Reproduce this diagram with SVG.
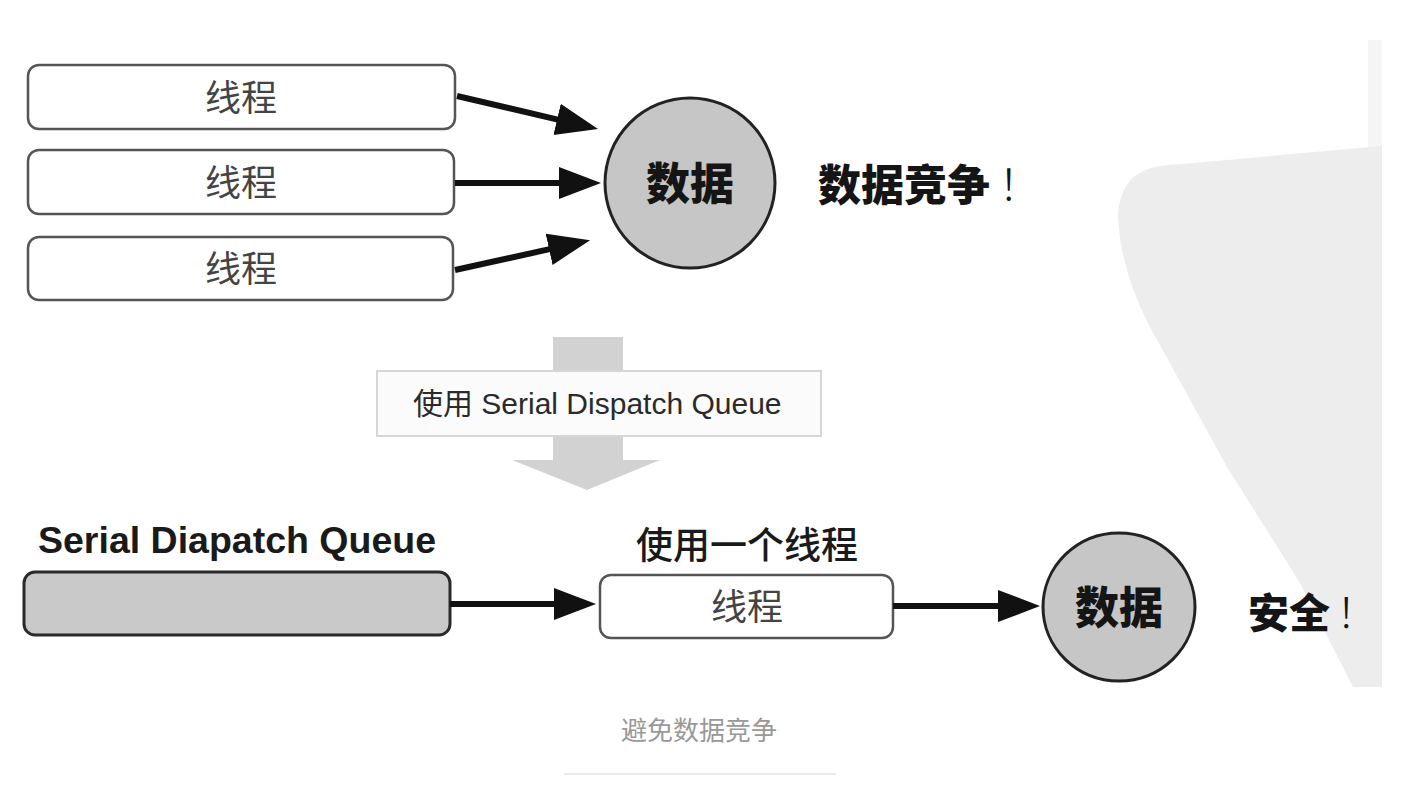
<svg xmlns="http://www.w3.org/2000/svg" width="1404" height="790" viewBox="0 0 1404 790">
<defs>
<style>
.box{fill:#fff;stroke:#555;stroke-width:2.5}
.qbox{fill:#c9c9c9;stroke:#2a2a2a;stroke-width:3}
.data{fill:#c6c6c6;stroke:#222;stroke-width:3}
.conn{stroke:#111;stroke-width:6;fill:none;marker-end:url(#ah)}
.cjk{font-family:"Noto Sans CJK SC","Noto Sans",sans-serif}
.thr{font-size:36px;fill:#444;text-anchor:middle}
.bold{font-weight:900;fill:#151515}
.excl{font-weight:300}
.lat{font-family:"Liberation Sans",Arial,"Noto Sans CJK SC",sans-serif}
</style>
<marker id="ah" markerUnits="userSpaceOnUse" markerWidth="44" markerHeight="34" refX="4" refY="16" orient="auto">
<path d="M0,0 L42,16 L0,32 Z" fill="#111"/>
</marker>
</defs>
<rect width="1404" height="790" fill="#fff"/>
<g id="watermark">
<rect x="1368" y="40" width="14" height="110" fill="#f5f5f5"/>
<path d="M1118,215 Q1120,172 1160,166 L1382,146 L1382,687 L1353,687 L1300,583 L1227,467 L1150,327 Q1120,270 1118,215 Z" fill="#ededed"/>
</g>
<g id="thread1"><rect class="box" x="28" y="65" width="427" height="64" rx="11"/><text class="cjk thr" x="241" y="111">线程</text></g>
<g id="thread2"><rect class="box" x="28" y="150" width="426" height="64" rx="11"/><text class="cjk thr" x="241" y="196">线程</text></g>
<g id="thread3"><rect class="box" x="28" y="237" width="425" height="63" rx="11"/><text class="cjk thr" x="241" y="282">线程</text></g>
<g id="data-top"><circle class="data" cx="690" cy="183" r="85"/><text class="cjk bold" x="690" y="200" font-size="44" text-anchor="middle">数据</text></g>
<g id="race-label"><text class="cjk bold" x="818" y="201" font-size="43">数据竞争<tspan class="excl" dx="8">！</tspan></text></g>
<g id="transition">
<path d="M553,337 L623,337 L623,460 L660,460 L587,490 L512,460 L553,460 Z" fill="#d2d2d2"/>
<rect x="377" y="371" width="444" height="65" fill="#fbfbfb" stroke="#d6d6d6" stroke-width="2"/>
<text class="lat" x="413" y="414" font-size="30" fill="#2a2a2a">使用 Serial Dispatch Queue</text>
</g>
<g id="queue">
<text class="lat" x="38" y="553" font-size="37.5" font-weight="bold" fill="#1a1a1a">Serial Diapatch Queue</text>
<rect class="qbox" x="24" y="572" width="426" height="63" rx="11"/>
</g>
<g id="thread-single">
<text class="cjk" x="636" y="559" font-size="37" font-weight="500" fill="#1a1a1a">使用一个线程</text>
<rect class="box" x="600" y="575" width="293" height="63" rx="11"/>
<text class="cjk thr" x="747" y="620">线程</text>
</g>
<g id="data-bottom"><ellipse class="data" cx="1119" cy="607" rx="76" ry="74"/><text class="cjk bold" x="1119" y="624" font-size="44" text-anchor="middle">数据</text></g>
<g id="safe-label"><text class="cjk bold" x="1248" y="628" font-size="41">安全<tspan class="excl" dx="6">！</tspan></text></g>
<g id="connectors">
<line class="conn" x1="457" y1="96" x2="561" y2="120.3"/>
<line class="conn" x1="455" y1="183" x2="563" y2="183"/>
<line class="conn" x1="455" y1="270" x2="553" y2="248.4"/>
<line class="conn" x1="450" y1="604" x2="558" y2="604"/>
<line class="conn" x1="893" y1="606" x2="1002" y2="606"/>
</g>
<g id="caption">
<text class="cjk" x="699" y="740" font-size="26" fill="#999" text-anchor="middle">避免数据竞争</text>
<line x1="564" y1="774" x2="836" y2="774" stroke="#eaeaea" stroke-width="2"/>
</g>
</svg>
